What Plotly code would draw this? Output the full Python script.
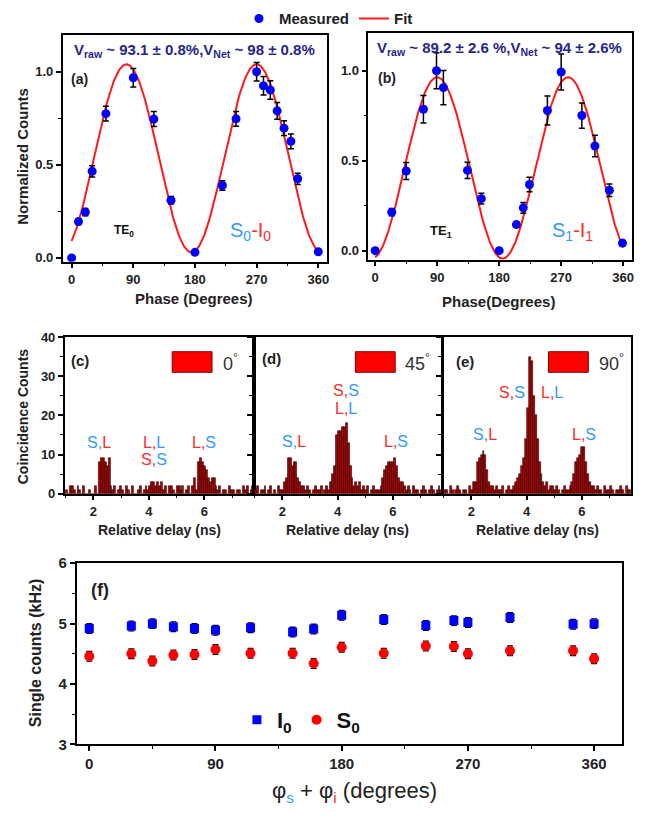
import numpy as np
import plotly.graph_objects as go

W, H = 660, 818

# ---------------- data ----------------
# (a) TE0 mode, S0-I0 two-photon interference
phase_a = [0, 10, 20, 30, 50, 90, 120, 145, 180, 220, 240, 270, 280, 290, 300, 310, 320, 330, 360]
counts_a = [0.0, 0.195, 0.246, 0.465, 0.775, 0.968, 0.746, 0.31, 0.03, 0.389, 0.747,
            1.0, 0.925, 0.902, 0.79, 0.697, 0.626, 0.425, 0.033]
err_a = [0.005, 0.015, 0.02, 0.03, 0.04, 0.05, 0.04, 0.02, 0.01, 0.025, 0.04,
         0.05, 0.05, 0.05, 0.045, 0.04, 0.04, 0.03, 0.01]
fit_a = dict(offset=0.535, amplitude=0.505, period=190.0, peak=80.0)

# (b) TE1 mode, S1-I1
phase_b = [0, 24, 45, 70, 89, 99, 134, 154, 180, 205, 215, 224, 250, 270, 300, 319, 340, 359]
counts_b = [0.0, 0.214, 0.443, 0.786, 1.0, 0.906, 0.446, 0.289, 0.0, 0.145, 0.238, 0.368,
            0.779, 0.993, 0.751, 0.582, 0.336, 0.042]
err_b = [0.01, 0.02, 0.047, 0.077, 0.1, 0.095, 0.045, 0.03, 0.01, 0.015, 0.03, 0.04,
         0.08, 0.1, 0.07, 0.06, 0.035, 0.015]
fit_b = dict(offset=0.46, amplitude=0.504, period=190.0, peak=90.0)

# (c)-(e) coincidence histograms, 0.07 ns bins starting at 1.0 ns
delay_start = 1.0
bin_width = 0.07
hist_0deg = [1, 0, 2, 2, 1, 0, 2, 1, 0, 2, 0, 0, 1, 0, 0, 2, 0,
             8, 9, 9, 8, 7, 9, 2,
             1, 2, 0, 1, 2, 1, 0, 2, 1, 0, 2, 0, 0, 1, 2, 0, 1, 2, 1,
             2, 3, 3, 2, 3, 2, 3, 1, 2,
             0, 2, 2, 1, 0, 2, 2, 1, 2, 0, 1, 2, 0, 2,
             4, 1, 8, 9, 8, 7, 6, 4, 3, 4, 4, 2,
             1, 2, 0, 1, 1, 0, 2, 1, 1, 0, 1, 1, 0, 2, 1, 2, 0, 1, 2]
hist_45deg = [1, 2, 0, 1, 1, 2, 0, 1, 2, 0, 1, 0, 2, 1, 1,
              3, 4, 9, 9, 7, 8, 8, 4, 3, 2, 2, 1, 2,
              1, 0, 1, 2, 1, 1, 2, 0, 1, 2, 1,
              3, 5, 7, 15, 16, 16, 17, 17, 18, 13, 7, 4, 2, 3, 2, 3, 1,
              2, 1, 2, 0, 1, 2, 1, 1,
              1, 2, 4, 6, 7, 8, 8, 8, 9, 7, 4, 3, 3, 2, 1,
              2, 1, 0, 2, 1, 1, 0, 1, 2, 1, 0, 1, 2, 1, 0, 1, 2, 1]
hist_90deg = [1, 1, 0, 2, 1, 0, 1, 2, 1, 0, 1, 1, 0, 2, 1,
              3, 3, 8, 9, 10, 11, 10, 6, 3, 2, 2, 1, 2,
              1, 1, 2, 0, 1, 2, 1, 1, 2,
              3, 4, 5, 7, 9, 14, 22, 35, 34, 25, 20, 14, 8, 5, 3, 2, 3, 1, 2,
              2, 1, 2, 1, 0, 1, 2, 1,
              1, 2, 3, 5, 8, 9, 10, 12, 12, 8, 5, 3, 2, 2, 1,
              2, 1, 1, 0, 2, 1, 1, 2, 1, 0, 1, 1, 2, 1, 0, 2, 1, 1]
hist_labels = ["0", "45", "90"]

# (f) single counts vs total phase
phase_f = [0, 30, 45, 60, 75, 90, 115, 145, 160, 180, 210, 240, 260, 270, 300, 345, 360]
idler_khz = [4.92, 4.96, 5.0, 4.95, 4.92, 4.89, 4.93, 4.86, 4.91, 5.14, 5.07, 4.97,
             5.05, 5.02, 5.10, 4.99, 5.0]
signal_khz = [4.46, 4.50, 4.38, 4.48, 4.49, 4.57, 4.51, 4.51, 4.34, 4.61, 4.51, 4.63,
              4.62, 4.50, 4.55, 4.55, 4.42]
single_err = 0.08

# ---------------- styling ----------------
FONT = "Arial, Liberation Sans, sans-serif"
BLUE_TXT = "#3399ff"
RED_TXT = "#ff2a2a"
NAVY = "#26268c"


def dx(p0, p1):
    return [p0 / W, p1 / W]


def dy(top, bottom):
    return [1 - bottom / H, 1 - top / H]


def px(x):
    return x / W


def py(y):
    return 1 - y / H


def sinus(p, x):
    x = np.asarray(x, dtype=float)
    return p["offset"] + p["amplitude"] * np.cos(2 * np.pi * (x - p["peak"]) / p["period"])


fig = go.Figure()

# (a)
fit_x = np.linspace(0, 360, 361)
fig.add_trace(go.Scatter(x=fit_x, y=sinus(fit_a, fit_x), mode="lines", name="Fit",
                         line=dict(color="#ff1a1a", width=2), xaxis="x", yaxis="y",
                         legendrank=2))
fig.add_trace(go.Scatter(x=phase_a, y=counts_a, mode="markers", name="Measured",
                         marker=dict(color="#0000ff", size=9),
                         error_y=dict(type="data", array=err_a, color="black", thickness=1.5, width=3),
                         xaxis="x", yaxis="y", legendrank=1))
# (b)
fig.add_trace(go.Scatter(x=fit_x, y=sinus(fit_b, fit_x), mode="lines", showlegend=False,
                         line=dict(color="#ff1a1a", width=2), xaxis="x2", yaxis="y2"))
fig.add_trace(go.Scatter(x=phase_b, y=counts_b, mode="markers", showlegend=False,
                         marker=dict(color="#0000ff", size=9),
                         error_y=dict(type="data", array=err_b, color="black", thickness=1.5, width=3),
                         xaxis="x2", yaxis="y2"))

# (c)-(e)
for k, hist in enumerate([hist_0deg, hist_45deg, hist_90deg]):
    centers = delay_start + bin_width * (np.arange(len(hist)) + 0.5)
    fig.add_trace(go.Bar(x=centers, y=hist, width=bin_width, showlegend=False,
                         marker=dict(color="#ad0000", line=dict(color="#2a0000", width=0.6)),
                         xaxis=f"x{k + 3}", yaxis=f"y{k + 3}"))

# (f)
fig.add_trace(go.Scatter(x=phase_f, y=idler_khz, mode="markers", name="I<sub>0</sub>",
                         marker=dict(color="#0000ff", size=9, symbol="square"),
                         error_y=dict(type="constant", value=single_err, color="black", thickness=1.3, width=3),
                         xaxis="x6", yaxis="y6", legend="legend2"))
fig.add_trace(go.Scatter(x=phase_f, y=signal_khz, mode="markers", name="S<sub>0</sub>",
                         marker=dict(color="#ff0000", size=10, symbol="circle"),
                         error_y=dict(type="constant", value=single_err, color="black", thickness=1.3, width=3),
                         xaxis="x6", yaxis="y6", legend="legend2"))

axis_base = dict(showline=True, linecolor="black", linewidth=1.5, mirror=True,
                 ticks="outside", ticklen=5, tickwidth=1.5, tickcolor="black",
                 showgrid=False, zeroline=False,
                 tickfont=dict(family=FONT, size=13, color="#222", weight="bold"))


def ax(**kw):
    d = dict(axis_base)
    d.update(kw)
    return d


minor_x90 = dict(ticks="outside", ticklen=3, tickwidth=1.2, tickcolor="black", dtick=45, showgrid=False)

layout = dict(
    width=W, height=H, margin=dict(l=0, r=0, t=0, b=0),
    paper_bgcolor="white", plot_bgcolor="white",
    bargap=0, barmode="overlay",
    font=dict(family=FONT, color="#222"),
    xaxis=ax(domain=dx(63, 328), range=[-13, 372], tickvals=[0, 90, 180, 270, 360],
             minor=minor_x90, anchor="y"),
    yaxis=ax(domain=dy(27, 258), range=[-0.02, 1.195], tickvals=[0.0, 0.5, 1.0],
             tickformat=".1f", anchor="x",
             minor=dict(ticks="outside", ticklen=3, tickwidth=1.2, tickcolor="black", dtick=0.25)),
    xaxis2=ax(domain=dx(370, 635), range=[-10, 373], tickvals=[0, 90, 180, 270, 360],
              minor=minor_x90, anchor="y2"),
    yaxis2=ax(domain=dy(25, 256), range=[-0.05, 1.207], tickvals=[0.0, 0.5, 1.0],
              tickformat=".1f", anchor="x2",
              minor=dict(ticks="outside", ticklen=3, tickwidth=1.2, tickcolor="black", dtick=0.25)),
    xaxis6=ax(domain=dx(77, 625), range=[-9, 380], tickvals=[0, 90, 180, 270, 360],
              minor=minor_x90, anchor="y6",
              tickfont=dict(family=FONT, size=15, color="#222", weight="bold")),
    yaxis6=ax(domain=dy(566, 751), range=[3, 6], tickvals=[3, 4, 5, 6], anchor="x6",
              tickfont=dict(family=FONT, size=15, color="#222", weight="bold"),
              minor=dict(ticks="outside", ticklen=3, tickwidth=1.2, tickcolor="black", dtick=0.5)),
    legend=dict(orientation="h", x=0.5, xanchor="center", y=py(10), yanchor="middle",
                font=dict(family=FONT, size=15, color="#222", weight="bold"),
                bgcolor="rgba(0,0,0,0)", itemwidth=30, tracegroupgap=0),
    legend2=dict(orientation="h", x=px(238), xanchor="left", y=py(726), yanchor="middle",
                 font=dict(family=FONT, size=22, color="#111", weight="bold"),
                 bgcolor="rgba(0,0,0,0)", itemwidth=30),
)

hist_domains = [(65, 255), (255, 444), (445, 634)]
for k, (l, r) in enumerate(hist_domains):
    n = k + 3
    layout[f"xaxis{n}"] = ax(domain=dx(l, r), range=[0.97, 7.78], tickvals=[2, 4, 6],
                             anchor=f"y{n}",
                             minor=dict(ticks="outside", ticklen=3, tickwidth=1.2,
                                        tickcolor="black", tickvals=[1, 3, 5, 7]))
    layout[f"yaxis{n}"] = ax(domain=dy(335, 495), range=[0, 40], tickvals=[0, 10, 20, 30, 40],
                             anchor=f"x{n}", showticklabels=(k == 0),
                             minor=dict(ticks="outside", ticklen=3, tickwidth=1.2,
                                        tickcolor="black", dtick=5))

fig.update_layout(**layout)

annotations = []


def note(x, y, text, size=14, color="#222", bold=True, xanchor="center", angle=0, yanchor="middle"):
    annotations.append(dict(x=px(x), y=py(y), xref="paper", yref="paper", text=text,
                            showarrow=False, xanchor=xanchor, yanchor=yanchor, textangle=angle,
                            font=dict(family=FONT, size=size, color=color,
                                      weight="bold" if bold else "normal")))


def two_tone(a, b, ca, cb):
    return f"<span style='color:{ca}'>{a},</span><span style='color:{cb}'>{b}</span>"


# axis titles
note(23, 150, "Normalized Counts", size=15, angle=-90)
note(195, 296, "Phase (Degrees)", size=15)
note(501, 299, "Phase(Degrees)", size=15)
note(23, 416, "Coincidence Counts", size=14, angle=-90)
for l, r in hist_domains:
    note((l + r) / 2, 532, "Relative delay (ns)", size=14)
note(35, 658, "Single counts (kHz)", size=16, angle=-90)
note(356, 800, f"φ<sub><span style='color:{BLUE_TXT}'>s</span></sub> + "
               f"φ<sub><span style='color:{RED_TXT}'>i</span></sub> (degrees)",
     size=22, color="#222", bold=False)

# panel letters
note(80, 71, "(a)", size=14)
note(389, 70, "(b)", size=14)
note(80, 359, "(c)", size=15)
note(273, 357, "(d)", size=15)
note(467, 360, "(e)", size=15)
note(100, 593, "(f)", size=18)

# visibility texts
note(195, 42, "V<sub>raw</sub> ~ 93.1 ± 0.8%,V<sub>Net</sub> ~ 98 ± 0.8%", size=15, color=NAVY)
note(502, 40, "V<sub>raw</sub> ~ 89.2 ± 2.6 %,V<sub>Net</sub> ~ 94 ± 2.6%", size=15, color=NAVY)

# mode labels
note(125, 227, "TE<sub>0</sub>", size=12, color="#111")
note(443, 227, "TE<sub>1</sub>", size=13, color="#111")
note(252, 227, f"<span style='color:{BLUE_TXT}'>S<sub>0</sub></span>"
               f"<span style='color:{RED_TXT}'>-I<sub>0</sub></span>", size=20, bold=False)
note(575, 227, f"<span style='color:{BLUE_TXT}'>S<sub>1</sub></span>"
               f"<span style='color:{RED_TXT}'>-I<sub>1</sub></span>", size=20, bold=False)

# histogram peak labels (data coordinates)
peak_labels = [
    ("x3", "y3", 2.2, 13.0, two_tone("S", "L", BLUE_TXT, RED_TXT)),
    ("x3", "y3", 4.2, 13.2, two_tone("L", "L", RED_TXT, BLUE_TXT)),
    ("x3", "y3", 4.2, 8.8, two_tone("S", "S", RED_TXT, BLUE_TXT)),
    ("x3", "y3", 6.0, 13.0, two_tone("L", "S", RED_TXT, BLUE_TXT)),
    ("x4", "y4", 2.43, 13.3, two_tone("S", "L", BLUE_TXT, RED_TXT)),
    ("x4", "y4", 4.3, 26.4, two_tone("S", "S", RED_TXT, BLUE_TXT)),
    ("x4", "y4", 4.3, 21.8, two_tone("L", "L", RED_TXT, BLUE_TXT)),
    ("x4", "y4", 6.1, 13.3, two_tone("L", "S", RED_TXT, BLUE_TXT)),
    ("x5", "y5", 2.5, 15.0, two_tone("S", "L", BLUE_TXT, RED_TXT)),
    ("x5", "y5", 3.46, 25.8, two_tone("S", "S", RED_TXT, BLUE_TXT)),
    ("x5", "y5", 4.9, 25.8, two_tone("L", "L", RED_TXT, BLUE_TXT)),
    ("x5", "y5", 6.07, 15.0, two_tone("L", "S", RED_TXT, BLUE_TXT)),
]
for xr, yr, x, y, t in peak_labels:
    annotations.append(dict(x=x, y=y, xref=xr, yref=yr, text=t, showarrow=False,
                            font=dict(family=FONT, size=16, color="#222")))

# histogram legend boxes
shapes = []
for (l, _), lab, (r0, r1, tx) in zip(hist_domains, hist_labels,
                                     [(173, 213, 222), (357, 397, 405), (551, 591, 600)]):
    shapes.append(dict(type="rect", xref="paper", yref="paper", x0=px(r0), x1=px(r1),
                       y0=py(371), y1=py(350), fillcolor="#ff0000",
                       line=dict(color="#7a0000", width=1)))
    note(tx, 361, f"{lab}<sup>°</sup>", size=18, color="#333", bold=False, xanchor="left")

fig.update_layout(annotations=annotations, shapes=shapes)
fig.write_html("out.html")
